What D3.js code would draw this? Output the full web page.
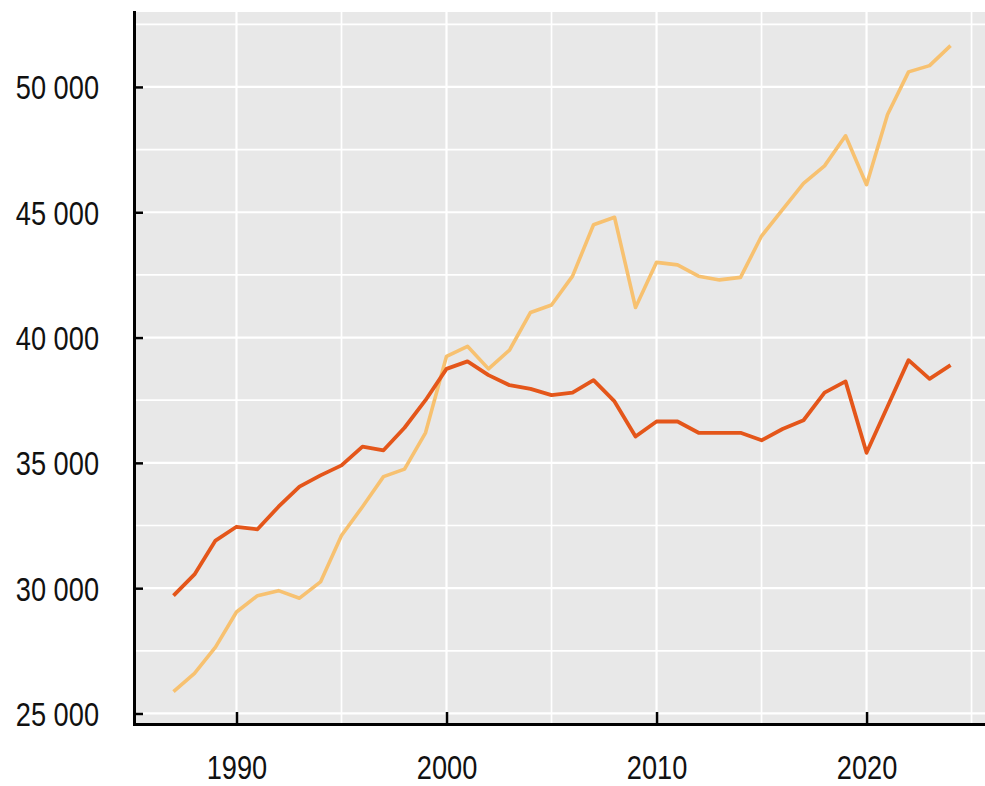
<!DOCTYPE html>
<html>
<head>
<meta charset="utf-8">
<script src="https://cdn.jsdelivr.net/npm/d3@7"></script>
<style>
  html, body { margin: 0; padding: 0; background: #ffffff; }
  svg { display: block; }
  text { font-family: "Liberation Sans", Arial, sans-serif; fill: #111; }
</style>
</head>
<body>
<svg id="chart" width="985" height="786"></svg>
<script>
// ---- data ----
const years = [1987,1988,1989,1990,1991,1992,1993,1994,1995,1996,1997,1998,1999,2000,2001,2002,2003,2004,2005,2006,2007,2008,2009,2010,2011,2012,2013,2014,2015,2016,2017,2018,2019,2020,2021,2022,2023,2024];
const seriesDark = [29700,30550,31900,32450,32350,33250,34050,34500,34900,35650,35500,36400,37500,38750,39050,38500,38100,37950,37700,37800,38300,37450,36050,36650,36650,36200,36200,36200,35900,36350,36700,37800,38250,35400,37250,39100,38350,38900];
const seriesLight = [25870,26600,27650,29050,29700,29900,29600,30250,32100,33250,34450,34750,36200,39250,39650,38750,39500,41000,41300,42450,44500,44800,41200,43000,42900,42450,42300,42400,44050,45100,46150,46850,48050,46100,48900,50600,50850,51650];
const xTickValues = [1990, 2000, 2010, 2020];
const xTickLabels = ["1990", "2000", "2010", "2020"];
const xGridValues = [1990, 1995, 2000, 2005, 2010, 2015, 2020, 2025];
const yTickValues = [25000, 30000, 35000, 40000, 45000, 50000];
const yTickLabels = ["25 000", "30 000", "35 000", "40 000", "45 000", "50 000"];
const yGridValues = [25000, 27500, 30000, 32500, 35000, 37500, 40000, 42500, 45000, 47500, 50000, 52500];

// ---- layout ----
const mLeft = 134, mRight = 985, mTop = 12, mBottom = 724;
const svg = d3.select("#chart");

const x = d3.scaleLinear().domain([1985.12, 2025.64]).range([mLeft, mRight]);
const y = d3.scaleLinear().domain([24580, 52990]).range([mBottom, mTop]);

// background
svg.append("rect")
  .attr("x", mLeft).attr("y", mTop)
  .attr("width", mRight - mLeft).attr("height", mBottom - mTop)
  .attr("fill", "#e8e8e8");

// grid
const grid = svg.append("g");
grid.selectAll("line.h").data(yGridValues).enter().append("line")
  .attr("x1", mLeft).attr("x2", mRight)
  .attr("y1", d => y(d)).attr("y2", d => y(d))
  .attr("stroke", "#ffffff")
  .attr("stroke-width", d => (d % 5000 === 0) ? 2.2 : 1.7);
grid.selectAll("line.v").data(xGridValues).enter().append("line")
  .attr("y1", mTop).attr("y2", mBottom)
  .attr("x1", d => x(d)).attr("x2", d => x(d))
  .attr("stroke", "#ffffff")
  .attr("stroke-width", d => (d % 10 === 0) ? 2.2 : 1.7);

// lines
const lineGen = d3.line()
  .x(d => x(d[0]))
  .y(d => y(d[1]));
const pairs = (vals) => vals.map((v, i) => [years[i], v]);

svg.append("path")
  .attr("d", lineGen(pairs(seriesLight)))
  .attr("fill", "none")
  .attr("stroke", "#f7c170")
  .attr("stroke-width", 3.6)
  .attr("stroke-linejoin", "round");

svg.append("path")
  .attr("d", lineGen(pairs(seriesDark)))
  .attr("fill", "none")
  .attr("stroke", "#e4561a")
  .attr("stroke-width", 3.8)
  .attr("stroke-linejoin", "round");

// axes
const yAxis = d3.axisLeft(y)
  .tickValues(yTickValues)
  .tickFormat((d, i) => yTickLabels[i])
  .tickSizeInner(-9)
  .tickSizeOuter(0)
  .tickPadding(35);
const gy = svg.append("g").attr("transform", `translate(${mLeft},0)`).call(yAxis);

const xAxis = d3.axisBottom(x)
  .tickValues(xTickValues)
  .tickFormat((d, i) => xTickLabels[i])
  .tickSizeInner(-12)
  .tickSizeOuter(0)
  .tickPadding(31);
const gx = svg.append("g").attr("transform", `translate(0,${mBottom})`).call(xAxis);

[gx, gy].forEach(g => {
  g.select(".domain").attr("stroke", "#000").attr("stroke-width", 3).attr("stroke-linecap", "square");
  g.selectAll(".tick line").attr("stroke", "#000").attr("stroke-width", 2.5);
  g.selectAll("text")
    .attr("font-size", 34)
    .attr("font-family", "Liberation Sans, Arial, sans-serif")
    .attr("fill", "#111");
});
gy.selectAll("text").attr("dy", "0.35em");

// horizontally condensed labels
svg.selectAll(".tick text").each(function() {
  const len = this.getComputedTextLength();
  d3.select(this).attr("textLength", (len * 0.8).toFixed(1)).attr("lengthAdjust", "spacingAndGlyphs");
});
</script>
</body>
</html>
